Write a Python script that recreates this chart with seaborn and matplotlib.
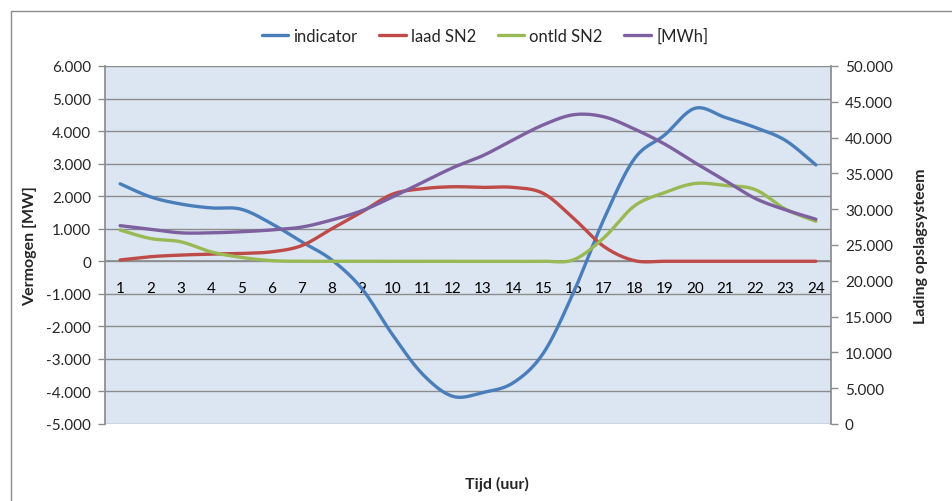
import numpy as np
import pandas as pd
import matplotlib
matplotlib.use("Agg")
import matplotlib.pyplot as plt
import seaborn as sns
from matplotlib.ticker import FuncFormatter, MultipleLocator, FixedLocator
from matplotlib.lines import Line2D

# ---- data ----
hours = list(range(1, 25))
indicator = [2380, 1980, 1760, 1640, 1600, 1160, 600, 40, -850, -2250, -3470, -4150,
             -4030, -3730, -2810, -930, 1310, 3150, 3880, 4700, 4420, 4110, 3710, 2960]
laad_sn2 = [40, 140, 190, 220, 240, 290, 480, 1000, 1520, 2060, 2230, 2290,
            2270, 2270, 2080, 1310, 450, 20, 0, 0, 0, 0, 0, 0]
ontld_sn2 = [960, 700, 600, 290, 120, 20, 0, 0, 0, 0, 0, 0,
             0, 0, 0, 50, 730, 1700, 2110, 2390, 2330, 2200, 1600, 1230]
mwh = [27700, 27200, 26700, 26700, 26850, 27100, 27500, 28500, 29800, 31700, 33750, 35800,
       37500, 39700, 41800, 43200, 42900, 41200, 39100, 36500, 34000, 31500, 29900, 28600]

series_names = ["indicator", "laad SN2", "ontld SN2", "[MWh]"]
colors = ["#4A7EBB", "#BE4B48", "#98B954", "#7D60A0"]
left_ticks = list(range(-5000, 6001, 1000))
right_ticks = list(range(0, 50001, 5000))


def smooth(x, y, n=20):
    """Excel-like smoothed line (Catmull-Rom through the data points)."""
    x = np.asarray(x, float)
    y = np.asarray(y, float)
    px = np.concatenate([[x[0]], x, [x[-1]]])
    py = np.concatenate([[y[0]], y, [y[-1]]])
    xs, ys = [], []
    t = np.linspace(0, 1, n, endpoint=False)
    for i in range(1, len(px) - 2):
        p0x, p1x, p2x, p3x = px[i - 1], px[i], px[i + 1], px[i + 2]
        p0y, p1y, p2y, p3y = py[i - 1], py[i], py[i + 1], py[i + 2]
        c1x, c1y = p1x + (p2x - p0x) / 6, p1y + (p2y - p0y) / 6
        c2x, c2y = p2x - (p3x - p1x) / 6, p2y - (p3y - p1y) / 6
        bx = (1 - t) ** 3 * p1x + 3 * (1 - t) ** 2 * t * c1x + 3 * (1 - t) * t ** 2 * c2x + t ** 3 * p2x
        by = (1 - t) ** 3 * p1y + 3 * (1 - t) ** 2 * t * c1y + 3 * (1 - t) * t ** 2 * c2y + t ** 3 * p2y
        xs.extend(bx)
        ys.extend(by)
    xs.append(x[-1])
    ys.append(y[-1])
    return np.array(xs), np.array(ys)


sns.set_theme(style="white")
plt.rcParams["font.family"] = ["Lato", "DejaVu Sans"]

fig = plt.figure(figsize=(9.52, 5.02), dpi=100)
ax = fig.add_axes([105 / 952, 1 - 425 / 502, 726 / 952, 358 / 502])
ax2 = ax.twinx()
ax.set_zorder(ax2.get_zorder() - 1)
ax2.patch.set_visible(False)
ax.set_facecolor("#DCE6F2")

grid_c = "#8C8C8C"
for v in left_ticks:
    ax.axhline(v, color=grid_c, lw=1.0, zorder=0)

left_series = [indicator, laad_sn2, ontld_sn2]
for name, vals, col in zip(series_names[:3], left_series, colors[:3]):
    sx, sy = smooth(hours, vals)
    df = pd.DataFrame({"x": sx, "y": sy})
    sns.lineplot(data=df, x="x", y="y", ax=ax, color=col, lw=2.4, sort=False,
                 estimator=None, legend=False, zorder=3)

sx, sy = smooth(hours, mwh)
df = pd.DataFrame({"x": sx, "y": sy})
sns.lineplot(data=df, x="x", y="y", ax=ax2, color=colors[3], lw=2.4, sort=False,
             estimator=None, legend=False, zorder=3)

fmt = FuncFormatter(lambda v, p: f"{int(round(v)):,}".replace(",", "."))

ax.set_xlim(0.5, 24.5)
ax.set_ylim(-5000, 6000)
ax.yaxis.set_major_locator(FixedLocator(left_ticks))
ax.yaxis.set_major_formatter(fmt)
ax2.set_ylim(0, 50000)
ax2.yaxis.set_major_locator(FixedLocator(right_ticks))
ax2.yaxis.set_major_formatter(fmt)

ax.xaxis.set_major_locator(FixedLocator(hours))
ax.set_xticklabels([str(h) for h in hours])
ax.xaxis.set_minor_locator(FixedLocator([h + 0.5 for h in range(0, 25)]))
ax.tick_params(axis="x", which="major", length=0, pad=14, labelsize=11, colors="black")
ax.tick_params(axis="x", which="minor", length=5, width=1, color=grid_c, direction="out")

for a in (ax, ax2):
    for s in a.spines.values():
        s.set_visible(False)
ax.spines["bottom"].set_visible(True)
ax.spines["bottom"].set_position(("data", 0))
ax.spines["bottom"].set_color(grid_c)
ax.spines["left"].set_visible(True)
ax.spines["left"].set_color(grid_c)
ax2.spines["right"].set_visible(True)
ax2.spines["right"].set_color(grid_c)

ax.tick_params(axis="y", length=5, width=1, color=grid_c, direction="out", labelsize=11, pad=5,
               left=True)
ax2.tick_params(axis="y", length=5, width=1, color=grid_c, direction="out", labelsize=11, pad=5,
                right=True)
ax2.set_xlim(0.5, 24.5)

ax.set_xlabel("")
ax.set_ylabel("")
ax2.set_xlabel("")
ax2.set_ylabel("")
ax.grid(False)
ax2.grid(False)

fig.text(30 / 952, 1 - 246 / 502, "Vermogen [MW]", rotation=90, ha="center", va="center",
         fontsize=11.5, fontweight="bold")
fig.text(921 / 952, 1 - 246 / 502, "Lading opslagsysteem", rotation=90, ha="center", va="center",
         fontsize=11.5, fontweight="bold")
fig.text(497 / 952, 1 - 484 / 502, "Tijd (uur)", ha="center", va="center",
         fontsize=11.5, fontweight="bold")

handles = [Line2D([0], [0], color=c, lw=2.4) for c in colors]
fig.legend(handles, series_names, loc="center", bbox_to_anchor=(485 / 952, 1 - 37 / 502),
           ncol=4, frameon=False, fontsize=12, handlelength=1.6, handletextpad=0.3,
           columnspacing=1.3)

# outer chart border (left and top visible)
fig.add_artist(Line2D([11 / 952, 11 / 952], [0, 1 - 12 / 502], transform=fig.transFigure,
                      color="#8C8C8C", lw=1))
fig.add_artist(Line2D([11 / 952, 1], [1 - 12 / 502, 1 - 12 / 502], transform=fig.transFigure,
                      color="#8C8C8C", lw=1))

fig.savefig("out.png", dpi=100, facecolor="white")
